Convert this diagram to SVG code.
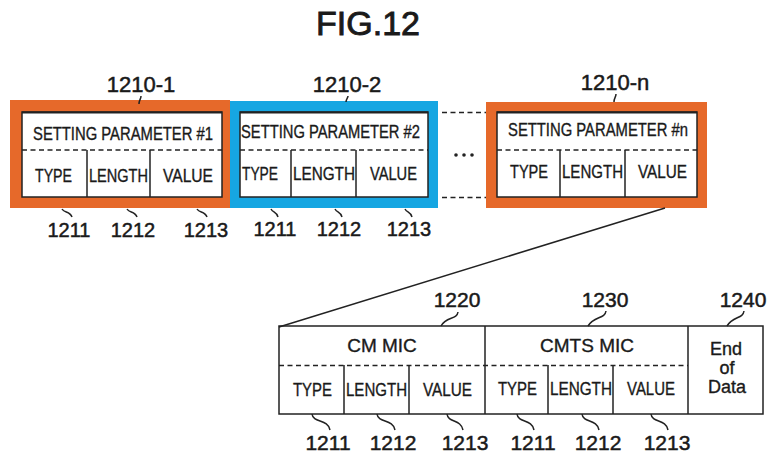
<svg xmlns="http://www.w3.org/2000/svg" width="770" height="457" viewBox="0 0 770 457">
<style>
text{font-family:"Liberation Sans",Arial,sans-serif;fill:#1a1a1a;stroke:#1a1a1a;stroke-width:0.35}
.title{font-size:34px;text-anchor:middle;stroke-width:0.9}
.num{font-size:21px;text-anchor:middle;stroke-width:0.5}
.cell{font-size:18px}
.lbl{font-size:19px;text-anchor:middle}
.ln{fill:none;stroke:#222;stroke-width:1.5}
.in{fill:#fff;stroke:#222;stroke-width:1.5}
.dash{fill:none;stroke:#222;stroke-width:1.6;stroke-dasharray:5 3.5}
.org{fill:#E6692A}
.blu{fill:#16A6E2}
</style>
<text class="title" x="368" y="35">FIG.12</text>

<g id="sp1">
<rect class="org" x="10" y="100" width="220" height="108"/>
<rect class="in" x="22" y="112" width="200" height="85"/>
<line class="ln" x1="22" y1="112.5" x2="222" y2="112.5" style="stroke-width:2.2"/>
<line class="dash" x1="22" y1="150" x2="222" y2="150"/>
<line class="ln" x1="87" y1="150" x2="87" y2="197"/>
<line class="ln" x1="150" y1="150" x2="150" y2="197"/>
<text class="cell" x="33" y="140" textLength="180" lengthAdjust="spacingAndGlyphs">SETTING PARAMETER #1</text>
<text class="cell" x="35" y="182" textLength="37" lengthAdjust="spacingAndGlyphs">TYPE</text>
<text class="cell" x="89" y="182" textLength="59" lengthAdjust="spacingAndGlyphs">LENGTH</text>
<text class="cell" x="163" y="182" textLength="50" lengthAdjust="spacingAndGlyphs">VALUE</text>
<text class="num" x="141" y="92" style="font-size:22px">1210-1</text>
<text class="num" x="69" y="237" style="font-size:20px">1211</text>
<text class="num" x="133" y="237" style="font-size:20px">1212</text>
<text class="num" x="206" y="237" style="font-size:20px">1213</text>
</g>

<g id="sp2">
<rect class="blu" x="230" y="101" width="208" height="107"/>
<rect class="in" x="240" y="112" width="188" height="85"/>
<line class="ln" x1="240" y1="112.5" x2="428" y2="112.5" style="stroke-width:2.2"/>
<line class="dash" x1="240" y1="150" x2="428" y2="150"/>
<line class="ln" x1="291" y1="150" x2="291" y2="197"/>
<line class="ln" x1="356" y1="150" x2="356" y2="197"/>
<text class="cell" x="241" y="138" textLength="179" lengthAdjust="spacingAndGlyphs">SETTING PARAMETER #2</text>
<text class="cell" x="242" y="180" textLength="36" lengthAdjust="spacingAndGlyphs">TYPE</text>
<text class="cell" x="293" y="180" textLength="62" lengthAdjust="spacingAndGlyphs">LENGTH</text>
<text class="cell" x="370" y="180" textLength="47" lengthAdjust="spacingAndGlyphs">VALUE</text>
<text class="num" x="347" y="92" style="font-size:22px">1210-2</text>
<text class="num" x="275" y="236" style="font-size:20px">1211</text>
<text class="num" x="339" y="236" style="font-size:20px">1212</text>
<text class="num" x="409" y="236" style="font-size:20px">1213</text>
</g>

<g id="ellipsis">
<circle cx="456" cy="155" r="1.8" fill="#222"/>
<circle cx="464" cy="155" r="1.8" fill="#222"/>
<circle cx="472" cy="155" r="1.8" fill="#222"/>
</g>

<g id="spn">
<rect class="org" x="486" y="102" width="221" height="106"/>
<rect class="in" x="497" y="112" width="200" height="85"/>
<line class="ln" x1="497" y1="112.5" x2="697" y2="112.5" style="stroke-width:2.2"/>
<line class="dash" x1="497" y1="150" x2="697" y2="150"/>
<line class="ln" x1="560" y1="150" x2="560" y2="197"/>
<line class="ln" x1="625" y1="150" x2="625" y2="197"/>
<text class="cell" x="508" y="136" textLength="180" lengthAdjust="spacingAndGlyphs">SETTING PARAMETER #n</text>
<text class="cell" x="510" y="178" textLength="38" lengthAdjust="spacingAndGlyphs">TYPE</text>
<text class="cell" x="562" y="178" textLength="61" lengthAdjust="spacingAndGlyphs">LENGTH</text>
<text class="cell" x="638" y="178" textLength="49" lengthAdjust="spacingAndGlyphs">VALUE</text>
<text class="num" x="615" y="90" style="font-size:22px">1210-n</text>
</g>

<g id="mic">
<rect class="in" x="279" y="326" width="484" height="88"/>
<line class="ln" x1="485" y1="326" x2="485" y2="414"/>
<line class="ln" x1="688" y1="326" x2="688" y2="414"/>
<line class="dash" x1="279" y1="365.5" x2="688" y2="365.5"/>
<line class="ln" x1="344" y1="365" x2="344" y2="414"/>
<line class="ln" x1="409" y1="365" x2="409" y2="414"/>
<line class="ln" x1="548" y1="365" x2="548" y2="414"/>
<line class="ln" x1="613" y1="365" x2="613" y2="414"/>
<text class="lbl" x="382" y="352">CM MIC</text>
<text class="lbl" x="587" y="352">CMTS MIC</text>
<text class="cell" x="293" y="396" textLength="39" lengthAdjust="spacingAndGlyphs">TYPE</text>
<text class="cell" x="346" y="396" textLength="61" lengthAdjust="spacingAndGlyphs">LENGTH</text>
<text class="cell" x="423" y="396" textLength="49" lengthAdjust="spacingAndGlyphs">VALUE</text>
<text class="cell" x="498" y="395" textLength="39" lengthAdjust="spacingAndGlyphs">TYPE</text>
<text class="cell" x="550" y="395" textLength="62" lengthAdjust="spacingAndGlyphs">LENGTH</text>
<text class="cell" x="627" y="395" textLength="48" lengthAdjust="spacingAndGlyphs">VALUE</text>
<text class="lbl" x="726" y="355" style="font-size:18px">End</text>
<text class="lbl" x="727" y="374" style="font-size:18px">of</text>
<text class="lbl" x="727" y="393" style="font-size:18px">Data</text>
<text class="num" x="457" y="307">1220</text>
<text class="num" x="605" y="307">1230</text>
<text class="num" x="743" y="307">1240</text>
<text class="num" x="328" y="450">1211</text>
<text class="num" x="393" y="450">1212</text>
<text class="num" x="465" y="450">1213</text>
<text class="num" x="533" y="450">1211</text>
<text class="num" x="598" y="450">1212</text>
<text class="num" x="667" y="450">1213</text>
</g>

<g id="connectors" class="ln" fill="none">
<line class="dash" x1="442" y1="112.5" x2="486" y2="112.5"/>
<line class="dash" x1="442" y1="197.5" x2="486" y2="197.5"/>
<line class="ln" x1="665" y1="208" x2="279" y2="327"/>
<path class="ln" d="M141,96 C141,99 139,100 139,104"/>
<path class="ln" d="M348,96 C348,98 346,99 346,102"/>
<path class="ln" d="M616,94 C616,97 614,98 614,102"/>
<path class="ln" d="M62,209 C64,213 70,211 72,217"/>
<path class="ln" d="M127,209 C129,213 135,211 137,217"/>
<path class="ln" d="M197,209 C199,213 205,211 207,217"/>
<path class="ln" d="M271,209 C273,213 276,211 278,217"/>
<path class="ln" d="M335,209 C337,213 340,211 342,217"/>
<path class="ln" d="M405,209 C407,213 410,211 412,217"/>
<path class="ln" d="M458,312 C457,320 446,316 441,326"/>
<path class="ln" d="M606,311 C605,319 594,316 588,326"/>
<path class="ln" d="M744,311 C743,319 733,316 727,326"/>
<path class="ln" d="M312,414 C313,423 328,419 330,430"/>
<path class="ln" d="M377,414 C378,423 393,419 395,430"/>
<path class="ln" d="M447,414 C448,423 461,419 463,430"/>
<path class="ln" d="M517,414 C518,423 532,419 534,430"/>
<path class="ln" d="M582,414 C583,423 597,419 599,430"/>
<path class="ln" d="M651,414 C652,423 666,419 668,430"/>
</g>
</svg>
